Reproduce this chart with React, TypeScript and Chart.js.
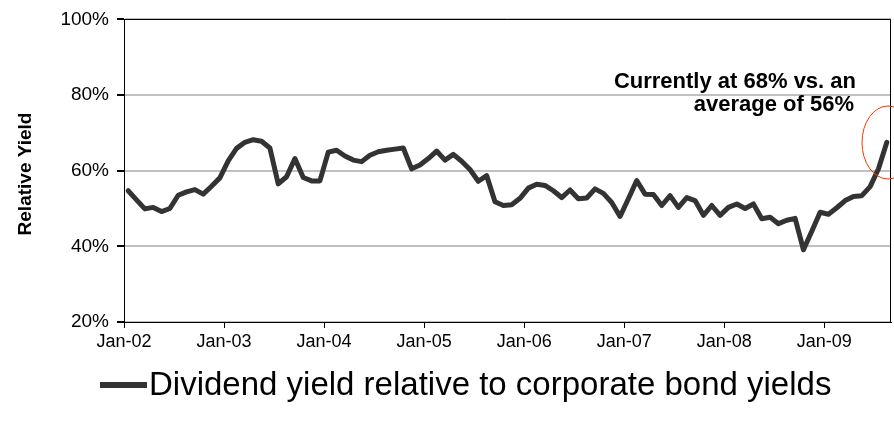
import React, { useEffect, useRef } from "react";
import { Chart, registerables } from "chart.js";

Chart.register(...registerables);

// ---- data ----
const tickLabels = ["Jan-02", "Jan-03", "Jan-04", "Jan-05", "Jan-06", "Jan-07", "Jan-08", "Jan-09"];
const tickMonths = [0, 12, 24, 36, 48, 60, 72, 84];
const yTickValues = [20, 40, 60, 80, 100];
// monthly relative yield (%), Jan-02 .. Aug-09
const relativeYield = [
  54.7, 52.3, 49.9, 50.3, 49.2, 50.0, 53.5, 54.4, 55.0, 53.8, 55.9, 58.1,
  62.6, 65.9, 67.5, 68.2, 67.8, 66.0, 56.5, 58.4, 63.2, 58.2, 57.3, 57.3,
  64.9, 65.4, 63.9, 62.8, 62.4, 64.1, 65.0, 65.4, 65.7, 66.0, 60.5, 61.5,
  63.2, 65.2, 62.8, 64.3, 62.5, 60.3, 57.2, 58.7, 51.8, 50.8, 51.0, 52.7,
  55.4, 56.4, 56.1, 54.7, 52.9, 54.9, 52.6, 52.8, 55.2, 54.0, 51.6, 47.9,
  52.6, 57.4, 53.8, 53.7, 50.8, 53.4, 50.3, 52.9, 52.1, 48.2, 50.8, 48.2,
  50.3, 51.2, 50.0, 51.2, 47.3, 47.7, 46.0, 46.9, 47.4, 39.1, 44.0, 49.0,
  48.5, 50.2, 52.1, 53.2, 53.4, 55.8, 60.5, 67.5,
];
const seriesName = "Dividend yield relative to corporate bond yields";
const yTitle = "Relative Yield";
const annotationLines = ["Currently at 68% vs. an", "average of 56%"];
const axisMaxMonth = 92;

const FONT = "'Liberation Sans', Arial, sans-serif";

const overlayPlugin = {
  id: "overlay",
  afterDraw(chart: any) {
    const { ctx, chartArea } = chart;
    const { left, right, top, bottom } = chartArea;
    ctx.save();
    // frame top and right
    ctx.strokeStyle = "#000";
    ctx.lineWidth = 1;
    ctx.beginPath();
    const t = Math.round(top) + 0.5;
    const r = Math.round(right) - 0.5;
    ctx.moveTo(Math.round(left), t);
    ctx.lineTo(r, t);
    ctx.lineTo(r, Math.round(bottom));
    ctx.stroke();

    // y title
    ctx.fillStyle = "#000";
    ctx.font = `bold 19px ${FONT}`;
    ctx.textAlign = "center";
    ctx.textBaseline = "middle";
    ctx.save();
    ctx.translate(26, 174);
    ctx.rotate(-Math.PI / 2);
    ctx.fillText(yTitle, 0, 0);
    ctx.restore();

    // annotation
    ctx.font = `bold 22px ${FONT}`;
    ctx.textAlign = "right";
    ctx.textBaseline = "alphabetic";
    ctx.fillText(annotationLines[0], 856, 88);
    ctx.fillText(annotationLines[1], 854, 111);

    // ellipse
    ctx.strokeStyle = "#ff3300";
    ctx.lineWidth = 1;
    ctx.beginPath();
    ctx.ellipse(888, 142.5, 26, 36.5, 0, 0, Math.PI * 2);
    ctx.stroke();

    // legend
    ctx.strokeStyle = "#333333";
    ctx.lineWidth = 6;
    ctx.lineCap = "butt";
    ctx.beginPath();
    ctx.moveTo(100, 385);
    ctx.lineTo(147, 385);
    ctx.stroke();
    ctx.fillStyle = "#000";
    ctx.font = `33px ${FONT}`;
    ctx.textAlign = "left";
    ctx.textBaseline = "middle";
    ctx.fillText(seriesName, 149, 386);
    ctx.restore();
  },
};

export default function App() {
  const ref = useRef<HTMLCanvasElement | null>(null);
  useEffect(() => {
    document.body.style.margin = "0";
    const canvas = ref.current!;
    const points = relativeYield.map((v, i) => ({ x: i + 0.5, y: v }));
    const chart = new Chart(canvas, {
      type: "line",
      data: {
        datasets: [
          {
            label: seriesName,
            data: points,
            borderColor: "#333333",
            borderWidth: 5,
            pointRadius: 0,
            tension: 0,
            borderJoinStyle: "round",
            borderCapStyle: "round",
            fill: false,
          },
        ],
      },
      options: {
        animation: false,
        responsive: false,
        devicePixelRatio: 1,
        layout: { padding: { top: 17, right: 3, left: 0, bottom: 0 } },
        plugins: { legend: { display: false }, tooltip: { enabled: false } },
        scales: {
          x: {
            type: "linear",
            min: 0,
            max: axisMaxMonth,
            afterFit: (s: any) => {
              s.height = 103;
            },
            afterBuildTicks: (s: any) => {
              s.ticks = tickMonths.map((m) => ({ value: m }));
            },
            ticks: {
              autoSkip: false,
              maxRotation: 0,
              color: "#000",
              font: { family: FONT, size: 18 },
              padding: 3,
              callback: (v: any) => {
                const idx = tickMonths.indexOf(Number(v));
                return idx >= 0 ? tickLabels[idx] : "";
              },
            },
            grid: {
              drawOnChartArea: false,
              tickColor: "#000",
              tickLength: 6,
            },
            border: { color: "#000", width: 1 },
          },
          y: {
            min: 20,
            max: 100,
            afterFit: (s: any) => {
              s.width = 124;
            },
            afterBuildTicks: (s: any) => {
              s.ticks = yTickValues.map((v) => ({ value: v }));
            },
            ticks: {
              color: "#000",
              font: { family: FONT, size: 19 },
              padding: 8,
              callback: (v: any) => `${v}%`,
            },
            grid: {
              color: "#c0c0c0",
              lineWidth: 2,
              tickColor: "#000",
              tickLength: 7,
            },
            border: { color: "#000", width: 1 },
          },
        },
      },
      plugins: [overlayPlugin],
    });
    return () => chart.destroy();
  }, []);
  return (
    <div style={{ position: "absolute", left: 0, top: 0, width: 894, height: 425, background: "#fff" }}>
      <canvas ref={ref} width={894} height={425} style={{ width: 894, height: 425 }} />
    </div>
  );
}
